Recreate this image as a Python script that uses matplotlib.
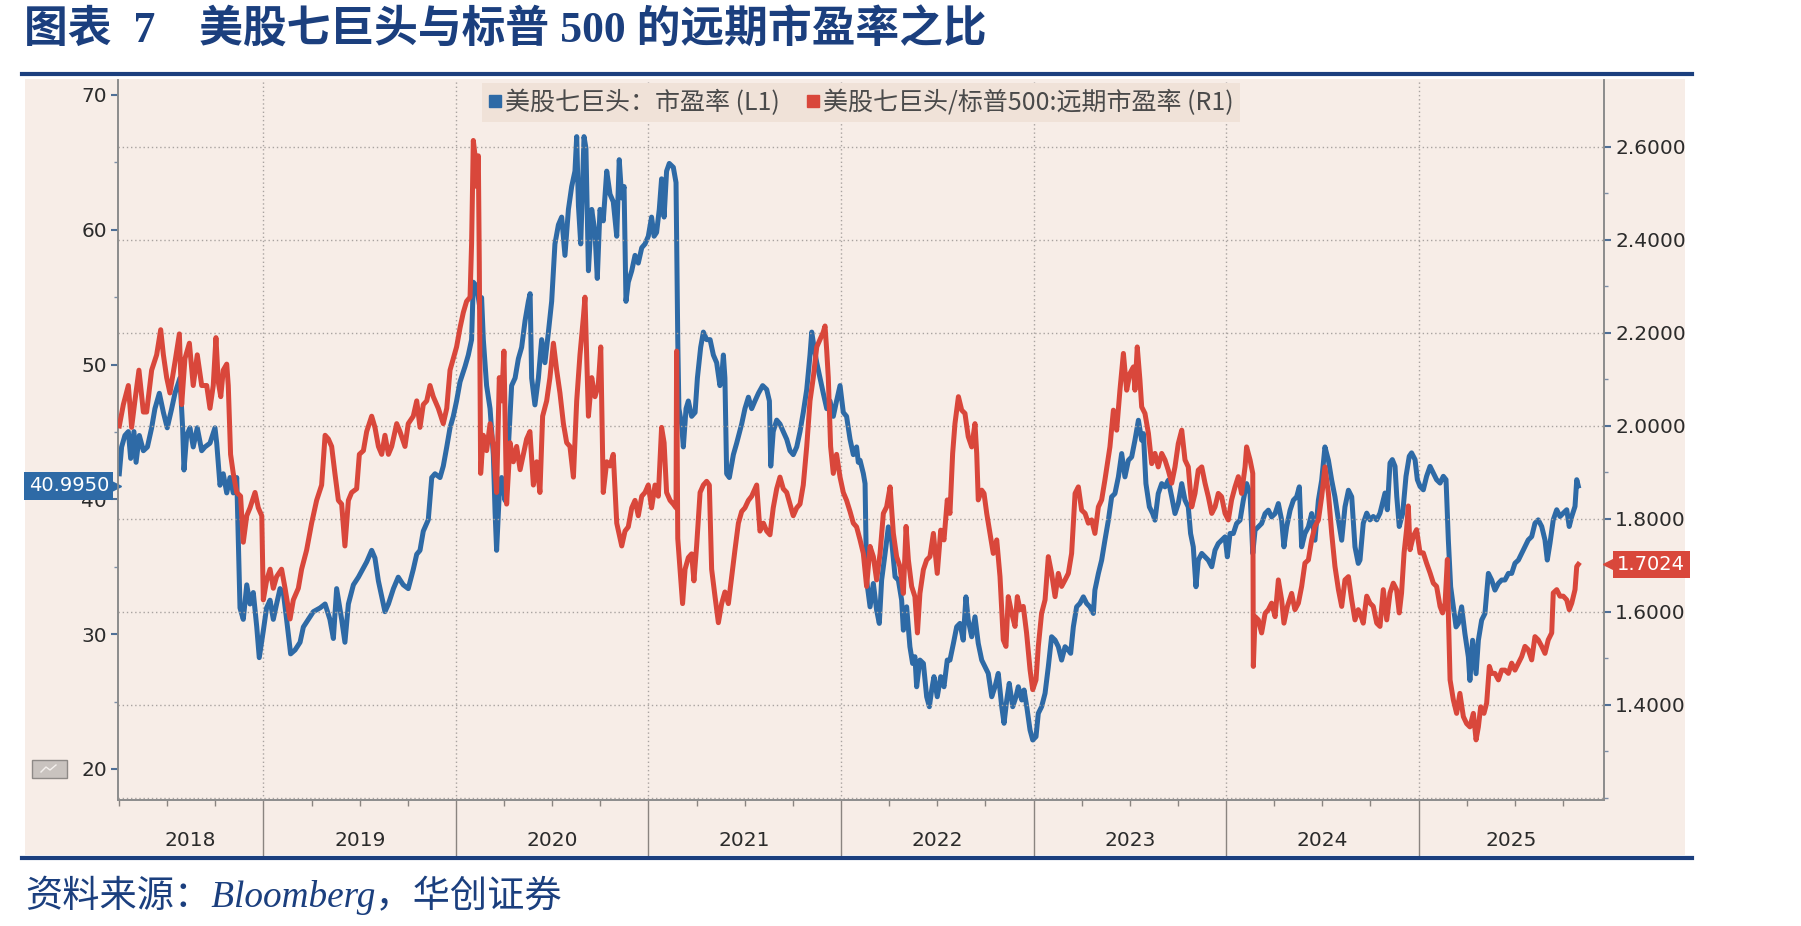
import matplotlib
matplotlib.use("Agg")
import matplotlib.pyplot as plt
from matplotlib.transforms import blended_transform_factory
from matplotlib.patches import Rectangle
from matplotlib.lines import Line2D
from matplotlib.ticker import FixedLocator, FormatStrFormatter, NullFormatter

# ---------------- data (decimal year, value) ----------------
pe_t = [2018.251, 2018.263, 2018.280, 2018.298, 2018.310, 2018.327, 2018.338, 2018.355, 2018.376, 2018.397,
        2018.419, 2018.436, 2018.459, 2018.480, 2018.500, 2018.523, 2018.540, 2018.566, 2018.580, 2018.587,
        2018.601, 2018.618, 2018.635, 2018.656, 2018.679, 2018.696, 2018.722, 2018.748, 2018.757, 2018.774,
        2018.791, 2018.809, 2018.826, 2018.843, 2018.861, 2018.878, 2018.895, 2018.913, 2018.930, 2018.947,
        2018.965, 2018.978, 2018.999, 2019.016, 2019.034, 2019.051, 2019.068, 2019.086, 2019.103, 2019.120,
        2019.141, 2019.164, 2019.190, 2019.207, 2019.233, 2019.259, 2019.294, 2019.320, 2019.345, 2019.363,
        2019.380, 2019.406, 2019.423, 2019.441, 2019.467, 2019.493, 2019.536, 2019.562, 2019.579, 2019.597,
        2019.614, 2019.631, 2019.649, 2019.675, 2019.700, 2019.726, 2019.752, 2019.778, 2019.796, 2019.813,
        2019.830, 2019.856, 2019.874, 2019.891, 2019.917, 2019.934, 2019.952, 2019.969, 2019.986, 2020.003,
        2020.021, 2020.047, 2020.064, 2020.081, 2020.090, 2020.107, 2020.125, 2020.133, 2020.142, 2020.159,
        2020.177, 2020.194, 2020.203, 2020.211, 2020.225, 2020.237, 2020.255, 2020.272, 2020.289, 2020.307,
        2020.324, 2020.341, 2020.359, 2020.376, 2020.385, 2020.393, 2020.410, 2020.428, 2020.445, 2020.462,
        2020.480, 2020.497, 2020.514, 2020.532, 2020.549, 2020.566, 2020.584, 2020.601, 2020.618, 2020.627,
        2020.636, 2020.648, 2020.665, 2020.675, 2020.688, 2020.705, 2020.722, 2020.734, 2020.748, 2020.765,
        2020.783, 2020.800, 2020.817, 2020.835, 2020.848, 2020.861, 2020.873, 2020.883, 2020.895, 2020.913,
        2020.930, 2020.947, 2020.965, 2020.982, 2020.999, 2021.016, 2021.029, 2021.042, 2021.056, 2021.068,
        2021.081, 2021.094, 2021.108, 2021.129, 2021.143, 2021.152, 2021.158, 2021.172, 2021.181, 2021.195,
        2021.207, 2021.224, 2021.242, 2021.254, 2021.271, 2021.285, 2021.302, 2021.320, 2021.337, 2021.354,
        2021.371, 2021.380, 2021.389, 2021.397, 2021.406, 2021.420, 2021.441, 2021.458, 2021.484, 2021.501,
        2021.519, 2021.536, 2021.553, 2021.571, 2021.593, 2021.614, 2021.628, 2021.635, 2021.648, 2021.666,
        2021.683, 2021.700, 2021.718, 2021.735, 2021.752, 2021.770, 2021.787, 2021.804, 2021.822, 2021.839,
        2021.848, 2021.860, 2021.874, 2021.891, 2021.908, 2021.926, 2021.943, 2021.960, 2021.977, 2021.995,
        2022.012, 2022.029, 2022.047, 2022.064, 2022.081, 2022.090, 2022.099, 2022.116, 2022.125, 2022.133,
        2022.151, 2022.168, 2022.185, 2022.199, 2022.211, 2022.229, 2022.246, 2022.263, 2022.281, 2022.298,
        2022.315, 2022.324, 2022.341, 2022.358, 2022.372, 2022.384, 2022.393, 2022.410, 2022.428, 2022.445,
        2022.459, 2022.471, 2022.483, 2022.500, 2022.518, 2022.535, 2022.552, 2022.566, 2022.584, 2022.601,
        2022.618, 2022.635, 2022.649, 2022.661, 2022.679, 2022.696, 2022.713, 2022.731, 2022.748, 2022.765,
        2022.783, 2022.800, 2022.817, 2022.835, 2022.847, 2022.861, 2022.874, 2022.892, 2022.909, 2022.921,
        2022.939, 2022.951, 2022.965, 2022.982, 2022.996, 2023.013, 2023.025, 2023.042, 2023.060, 2023.077,
        2023.094, 2023.112, 2023.129, 2023.146, 2023.164, 2023.181, 2023.193, 2023.207, 2023.224, 2023.241,
        2023.259, 2023.276, 2023.293, 2023.311, 2023.319, 2023.337, 2023.354, 2023.371, 2023.389, 2023.406,
        2023.423, 2023.441, 2023.458, 2023.475, 2023.493, 2023.510, 2023.527, 2023.545, 2023.562, 2023.571,
        2023.584, 2023.602, 2023.619, 2023.631, 2023.648, 2023.666, 2023.683, 2023.700, 2023.718, 2023.735,
        2023.752, 2023.770, 2023.787, 2023.804, 2023.816, 2023.830, 2023.844, 2023.856, 2023.874, 2023.891,
        2023.908, 2023.926, 2023.943, 2023.960, 2023.977, 2023.995, 2024.007, 2024.021, 2024.038, 2024.055,
        2024.073, 2024.090, 2024.107, 2024.125, 2024.139, 2024.151, 2024.168, 2024.185, 2024.203, 2024.220,
        2024.237, 2024.255, 2024.272, 2024.289, 2024.301, 2024.315, 2024.333, 2024.350, 2024.367, 2024.381,
        2024.393, 2024.410, 2024.428, 2024.445, 2024.462, 2024.480, 2024.497, 2024.514, 2024.532, 2024.549,
        2024.566, 2024.584, 2024.601, 2024.618, 2024.636, 2024.653, 2024.670, 2024.687, 2024.696, 2024.713,
        2024.731, 2024.748, 2024.765, 2024.783, 2024.800, 2024.817, 2024.826, 2024.838, 2024.852, 2024.864,
        2024.878, 2024.887, 2024.900, 2024.918, 2024.935, 2024.952, 2024.964, 2024.982, 2024.994, 2025.008,
        2025.025, 2025.042, 2025.060, 2025.077, 2025.094, 2025.112, 2025.129, 2025.143, 2025.155, 2025.167,
        2025.181, 2025.195, 2025.207, 2025.224, 2025.241, 2025.259, 2025.267, 2025.281, 2025.299, 2025.311,
        2025.328, 2025.345, 2025.363, 2025.380, 2025.397, 2025.415, 2025.432, 2025.449, 2025.467, 2025.484,
        2025.501, 2025.519, 2025.536, 2025.553, 2025.570, 2025.588, 2025.605, 2025.622, 2025.640, 2025.657,
        2025.669, 2025.683, 2025.700, 2025.718, 2025.735, 2025.752, 2025.770, 2025.783, 2025.796, 2025.813,
        2025.822, 2025.830]
pe_val = [41.90, 43.89, 44.74, 45.03, 43.04, 45.03, 42.75, 44.74, 43.61, 43.89,
          45.31, 46.73, 47.87, 46.45, 45.31, 46.73, 47.87, 49.00, 45.31, 42.18,
          44.74, 45.31, 43.89, 45.31, 43.61, 43.89, 44.17, 45.31, 44.17, 41.05,
          41.90, 40.48, 41.62, 40.48, 41.62, 31.95, 31.10, 33.66, 32.24, 33.09,
          30.53, 28.26, 30.25, 31.95, 32.52, 31.10, 32.24, 33.38, 33.09, 31.10,
          28.54, 28.83, 29.40, 30.53, 31.10, 31.67, 31.95, 32.24, 31.10, 29.68,
          33.38, 31.10, 29.40, 32.24, 33.66, 34.23, 35.36, 36.22, 35.65, 33.94,
          32.81, 31.67, 32.24, 33.38, 34.23, 33.66, 33.38, 34.80, 35.93, 36.22,
          37.64, 38.49, 41.62, 41.90, 41.62, 42.47, 43.89, 45.31, 46.16, 47.30,
          48.72, 49.86, 50.71, 51.85, 56.11, 55.82, 54.12, 54.97, 51.85, 48.44,
          46.73, 43.32, 39.06, 36.22, 40.48, 41.62, 39.91, 43.89, 48.44, 49.00,
          50.43, 51.28, 53.27, 54.69, 55.26, 49.00, 47.01, 49.00, 51.85, 50.14,
          52.41, 54.69, 58.95, 60.37, 60.94, 58.10, 61.51, 63.21, 64.35, 66.91,
          61.79, 58.95, 66.91, 66.05, 56.96, 61.51, 59.80, 56.39, 61.51, 60.66,
          64.35, 62.64, 62.08, 59.52, 65.20, 62.36, 63.21, 54.69, 56.11, 56.96,
          58.10, 57.53, 58.67, 58.95, 59.52, 60.94, 59.52, 59.80, 61.51, 63.78,
          60.94, 64.35, 64.92, 64.63, 63.50, 51.85, 46.73, 45.59, 43.89, 46.73,
          47.30, 46.16, 46.45, 49.00, 51.28, 52.41, 51.85, 51.85, 50.71, 50.14,
          48.44, 49.00, 50.71, 49.00, 41.90, 41.62, 43.32, 44.17, 45.59, 46.73,
          47.58, 46.73, 47.30, 47.87, 48.44, 48.15, 47.30, 42.47, 45.03, 45.88,
          45.59, 45.03, 44.46, 43.61, 43.32, 43.89, 45.03, 46.45, 48.15, 50.71,
          52.41, 51.28, 50.14, 49.00, 47.87, 46.73, 47.30, 46.16, 47.30, 48.44,
          46.45, 46.16, 44.46, 43.32, 43.89, 42.75, 42.90, 41.92, 41.17, 34.01,
          32.03, 33.76, 31.79, 30.80, 34.01, 35.99, 37.96, 36.97, 34.26, 34.01,
          32.53, 30.30, 32.03, 29.07, 27.83, 28.33, 26.10, 28.08, 27.83, 25.36,
          24.62, 25.86, 26.85, 25.36, 26.85, 26.10, 28.08, 28.08, 29.32, 30.55,
          30.80, 29.56, 32.77, 31.05, 29.81, 31.29, 29.32, 28.08, 27.59, 27.09,
          25.36, 26.10, 27.09, 24.62, 23.39, 25.12, 26.35, 24.62, 25.36, 26.10,
          25.12, 25.86, 24.62, 22.89, 22.15, 22.40, 24.13, 24.62, 25.61, 27.59,
          29.81, 29.56, 29.07, 28.08, 29.07, 28.82, 28.58, 30.55, 32.03, 32.28,
          32.77, 32.28, 32.03, 31.54, 33.27, 34.50, 35.49, 36.97, 38.46, 40.19,
          40.43, 41.67, 43.40, 41.67, 42.90, 43.15, 44.39, 45.87, 44.39, 44.88,
          41.17, 39.44, 38.95, 38.46, 40.43, 41.17, 40.93, 41.42, 40.19, 38.95,
          39.69, 41.17, 39.94, 39.44, 37.47, 36.48, 33.52, 35.49, 35.99, 35.74,
          35.49, 35.00, 36.23, 36.73, 36.97, 37.22, 35.74, 37.47, 37.47, 38.21,
          38.46, 39.94, 41.17, 40.43, 35.99, 37.72, 37.96, 38.21, 38.95, 39.20,
          38.70, 38.95, 39.69, 38.46, 36.48, 37.96, 39.20, 39.94, 40.19, 40.93,
          36.48, 37.47, 37.96, 38.95, 36.97, 39.94, 41.42, 43.89, 42.90, 41.42,
          40.19, 38.46, 36.97, 39.44, 40.68, 40.19, 36.48, 35.25, 35.50, 38.23,
          38.98, 38.48, 38.73, 38.48, 38.98, 39.97, 40.47, 39.23, 42.70, 42.95,
          42.45, 40.22, 37.99, 38.98, 41.71, 43.20, 43.45, 42.95, 41.46, 40.96,
          40.71, 41.71, 42.45, 41.96, 41.46, 41.21, 41.71, 41.46, 36.99, 33.52,
          32.03, 30.54, 30.79, 32.03, 30.05, 28.31, 26.57, 29.55, 27.07, 29.55,
          31.04, 31.53, 34.51, 34.02, 33.27, 33.77, 34.02, 34.02, 34.51, 34.51,
          35.26, 35.50, 36.00, 36.50, 36.99, 37.24, 38.23, 38.48, 37.99, 36.99,
          35.50, 36.75, 38.48, 39.23, 38.73, 38.98, 39.23, 37.99, 38.73, 39.48,
          41.46, 40.995]

ratio_t = [2018.251, 2018.272, 2018.298, 2018.315, 2018.332, 2018.353, 2018.376, 2018.393, 2018.419, 2018.445,
           2018.466, 2018.480, 2018.497, 2018.514, 2018.540, 2018.563, 2018.575, 2018.592, 2018.615, 2018.635,
           2018.656, 2018.679, 2018.705, 2018.722, 2018.739, 2018.753, 2018.765, 2018.778, 2018.791, 2018.809,
           2018.817, 2018.829, 2018.843, 2018.861, 2018.881, 2018.895, 2018.913, 2018.930, 2018.956, 2018.973,
           2018.991, 2018.999, 2019.016, 2019.034, 2019.051, 2019.068, 2019.094, 2019.112, 2019.138, 2019.155,
           2019.181, 2019.198, 2019.224, 2019.250, 2019.276, 2019.302, 2019.320, 2019.337, 2019.354, 2019.371,
           2019.389, 2019.406, 2019.423, 2019.441, 2019.458, 2019.484, 2019.498, 2019.519, 2019.536, 2019.562,
           2019.579, 2019.597, 2019.614, 2019.631, 2019.649, 2019.666, 2019.692, 2019.709, 2019.735, 2019.752,
           2019.778, 2019.796, 2019.813, 2019.830, 2019.848, 2019.865, 2019.882, 2019.908, 2019.934, 2019.952,
           2019.969, 2019.986, 2020.003, 2020.021, 2020.038, 2020.055, 2020.073, 2020.081, 2020.090, 2020.099,
           2020.107, 2020.116, 2020.121, 2020.128, 2020.142, 2020.159, 2020.177, 2020.194, 2020.211, 2020.225,
           2020.237, 2020.249, 2020.263, 2020.281, 2020.298, 2020.315, 2020.333, 2020.350, 2020.367, 2020.384,
           2020.402, 2020.419, 2020.436, 2020.450, 2020.471, 2020.488, 2020.506, 2020.523, 2020.540, 2020.558,
           2020.575, 2020.592, 2020.610, 2020.627, 2020.644, 2020.662, 2020.670, 2020.688, 2020.705, 2020.722,
           2020.739, 2020.752, 2020.765, 2020.783, 2020.800, 2020.817, 2020.835, 2020.861, 2020.878, 2020.895,
           2020.913, 2020.930, 2020.947, 2020.965, 2020.982, 2020.999, 2021.016, 2021.034, 2021.051, 2021.068,
           2021.081, 2021.094, 2021.112, 2021.129, 2021.143, 2021.146, 2021.152, 2021.164, 2021.177, 2021.190,
           2021.207, 2021.224, 2021.236, 2021.250, 2021.268, 2021.285, 2021.302, 2021.316, 2021.328, 2021.345,
           2021.363, 2021.380, 2021.397, 2021.415, 2021.432, 2021.449, 2021.467, 2021.484, 2021.501, 2021.519,
           2021.536, 2021.553, 2021.562, 2021.579, 2021.597, 2021.614, 2021.631, 2021.648, 2021.666, 2021.683,
           2021.700, 2021.718, 2021.735, 2021.752, 2021.770, 2021.787, 2021.804, 2021.822, 2021.839, 2021.856,
           2021.874, 2021.891, 2021.908, 2021.917, 2021.926, 2021.934, 2021.946, 2021.960, 2021.977, 2021.995,
           2022.012, 2022.029, 2022.047, 2022.064, 2022.081, 2022.099, 2022.116, 2022.133, 2022.151, 2022.168,
           2022.185, 2022.203, 2022.220, 2022.237, 2022.255, 2022.272, 2022.289, 2022.306, 2022.324, 2022.338,
           2022.350, 2022.367, 2022.384, 2022.397, 2022.410, 2022.428, 2022.445, 2022.462, 2022.480, 2022.500,
           2022.518, 2022.535, 2022.552, 2022.566, 2022.580, 2022.592, 2022.610, 2022.627, 2022.644, 2022.661,
           2022.679, 2022.696, 2022.705, 2022.713, 2022.731, 2022.743, 2022.757, 2022.774, 2022.791, 2022.809,
           2022.826, 2022.843, 2022.857, 2022.869, 2022.887, 2022.904, 2022.916, 2022.930, 2022.947, 2022.964,
           2022.982, 2022.996, 2023.013, 2023.025, 2023.042, 2023.060, 2023.077, 2023.094, 2023.112, 2023.129,
           2023.146, 2023.164, 2023.181, 2023.198, 2023.216, 2023.233, 2023.250, 2023.268, 2023.285, 2023.302,
           2023.319, 2023.337, 2023.354, 2023.371, 2023.389, 2023.397, 2023.415, 2023.432, 2023.449, 2023.467,
           2023.484, 2023.501, 2023.519, 2023.527, 2023.539, 2023.553, 2023.562, 2023.579, 2023.597, 2023.614,
           2023.631, 2023.648, 2023.666, 2023.683, 2023.700, 2023.718, 2023.735, 2023.752, 2023.770, 2023.787,
           2023.804, 2023.822, 2023.839, 2023.856, 2023.874, 2023.891, 2023.908, 2023.926, 2023.943, 2023.960,
           2023.977, 2023.995, 2024.012, 2024.029, 2024.047, 2024.064, 2024.081, 2024.099, 2024.107, 2024.125,
           2024.139, 2024.142, 2024.151, 2024.168, 2024.185, 2024.203, 2024.220, 2024.237, 2024.255, 2024.272,
           2024.289, 2024.301, 2024.319, 2024.341, 2024.358, 2024.376, 2024.393, 2024.410, 2024.428, 2024.445,
           2024.462, 2024.480, 2024.497, 2024.514, 2024.532, 2024.549, 2024.566, 2024.584, 2024.601, 2024.618,
           2024.636, 2024.653, 2024.670, 2024.687, 2024.696, 2024.713, 2024.731, 2024.748, 2024.765, 2024.783,
           2024.800, 2024.817, 2024.835, 2024.852, 2024.869, 2024.886, 2024.900, 2024.912, 2024.925, 2024.938,
           2024.947, 2024.956, 2024.973, 2024.990, 2025.008, 2025.025, 2025.042, 2025.060, 2025.077, 2025.094,
           2025.112, 2025.125, 2025.138, 2025.150, 2025.155, 2025.164, 2025.181, 2025.198, 2025.215, 2025.233,
           2025.250, 2025.267, 2025.285, 2025.299, 2025.311, 2025.323, 2025.340, 2025.354, 2025.368, 2025.380,
           2025.397, 2025.415, 2025.432, 2025.449, 2025.467, 2025.484, 2025.501, 2025.519, 2025.536, 2025.553,
           2025.570, 2025.588, 2025.605, 2025.622, 2025.640, 2025.657, 2025.674, 2025.692, 2025.700, 2025.718,
           2025.735, 2025.752, 2025.770, 2025.783, 2025.796, 2025.813, 2025.822, 2025.830]
ratio_val = [2.000, 2.046, 2.087, 1.997, 2.054, 2.120, 2.030, 2.030, 2.120, 2.153,
             2.207, 2.153, 2.104, 2.071, 2.137, 2.198, 2.046, 2.145, 2.178, 2.087,
             2.153, 2.087, 2.087, 2.038, 2.087, 2.190, 2.095, 2.063, 2.120, 2.133,
             2.087, 1.939, 1.898, 1.857, 1.849, 1.750, 1.807, 1.824, 1.857, 1.824,
             1.807, 1.626, 1.667, 1.692, 1.651, 1.676, 1.692, 1.651, 1.585, 1.626,
             1.651, 1.692, 1.733, 1.791, 1.840, 1.873, 1.980, 1.972, 1.956, 1.898,
             1.840, 1.832, 1.742, 1.840, 1.857, 1.865, 1.939, 1.947, 1.988, 2.021,
             1.997, 1.956, 1.939, 1.980, 1.939, 1.956, 2.005, 1.988, 1.956, 2.005,
             2.021, 2.054, 1.997, 2.046, 2.054, 2.087, 2.063, 2.038, 2.005, 2.038,
             2.120, 2.145, 2.170, 2.211, 2.244, 2.268, 2.277, 2.392, 2.614, 2.581,
             2.515, 2.581, 2.351, 1.898, 1.980, 1.947, 2.005, 1.956, 1.857, 2.104,
             2.054, 2.161, 1.832, 1.964, 1.923, 1.956, 1.906, 1.939, 1.972, 1.988,
             1.873, 1.923, 1.857, 2.021, 2.054, 2.104, 2.178, 2.120, 2.071, 2.005,
             1.964, 1.956, 1.890, 2.054, 2.153, 2.235, 2.277, 2.021, 2.104, 2.063,
             2.087, 2.170, 1.857, 1.923, 1.914, 1.939, 1.791, 1.742, 1.774, 1.783,
             1.824, 1.840, 1.807, 1.849, 1.857, 1.873, 1.824, 1.873, 1.849, 1.997,
             1.964, 1.857, 1.840, 1.832, 1.824, 2.161, 1.758, 1.692, 1.618, 1.692,
             1.717, 1.725, 1.667, 1.742, 1.857, 1.873, 1.881, 1.873, 1.692, 1.635,
             1.577, 1.618, 1.643, 1.618, 1.676, 1.733, 1.791, 1.816, 1.824, 1.840,
             1.849, 1.865, 1.873, 1.774, 1.791, 1.774, 1.766, 1.824, 1.865, 1.890,
             1.865, 1.857, 1.832, 1.807, 1.824, 1.832, 1.873, 1.956, 2.054, 2.104,
             2.170, 2.186, 2.202, 2.215, 2.161, 2.104, 1.956, 1.898, 1.939, 1.890,
             1.857, 1.840, 1.816, 1.791, 1.783, 1.755, 1.726, 1.655, 1.741, 1.719,
             1.669, 1.726, 1.812, 1.826, 1.869, 1.769, 1.719, 1.698, 1.640, 1.784,
             1.712, 1.655, 1.633, 1.555, 1.640, 1.691, 1.712, 1.719, 1.769, 1.683,
             1.776, 1.755, 1.841, 1.812, 1.941, 2.005, 2.063, 2.034, 2.027, 1.977,
             1.955, 2.005, 1.941, 1.841, 1.862, 1.855, 1.812, 1.769, 1.726, 1.755,
             1.676, 1.540, 1.526, 1.633, 1.597, 1.569, 1.633, 1.605, 1.612, 1.555,
             1.476, 1.433, 1.454, 1.526, 1.597, 1.626, 1.719, 1.683, 1.633, 1.683,
             1.655, 1.669, 1.683, 1.726, 1.855, 1.869, 1.819, 1.812, 1.791, 1.798,
             1.769, 1.826, 1.841, 1.884, 1.934, 1.955, 2.034, 1.991, 2.077, 2.156,
             2.077, 2.113, 2.127, 2.077, 2.170, 2.098, 2.041, 2.027, 1.984, 1.919,
             1.941, 1.912, 1.941, 1.927, 1.905, 1.877, 1.912, 1.962, 1.991, 1.927,
             1.912, 1.826, 1.855, 1.905, 1.912, 1.877, 1.848, 1.812, 1.826, 1.855,
             1.848, 1.812, 1.798, 1.841, 1.869, 1.891, 1.855, 1.912, 1.955, 1.927,
             1.898, 1.483, 1.590, 1.583, 1.555, 1.597, 1.605, 1.619, 1.590, 1.669,
             1.626, 1.576, 1.612, 1.640, 1.605, 1.619, 1.655, 1.705, 1.712, 1.755,
             1.784, 1.798, 1.848, 1.912, 1.855, 1.769, 1.698, 1.648, 1.612, 1.669,
             1.676, 1.626, 1.583, 1.605, 1.598, 1.576, 1.634, 1.619, 1.612, 1.576,
             1.569, 1.648, 1.583, 1.641, 1.662, 1.648, 1.598, 1.641, 1.727, 1.777,
             1.828, 1.734, 1.763, 1.777, 1.727, 1.727, 1.705, 1.684, 1.662, 1.655,
             1.612, 1.598, 1.619, 1.713, 1.598, 1.454, 1.411, 1.382, 1.425, 1.375,
             1.360, 1.353, 1.382, 1.325, 1.353, 1.396, 1.382, 1.404, 1.483, 1.468,
             1.468, 1.454, 1.475, 1.475, 1.468, 1.490, 1.475, 1.490, 1.504, 1.526,
             1.519, 1.497, 1.547, 1.540, 1.526, 1.511, 1.540, 1.555, 1.641, 1.648,
             1.634, 1.634, 1.626, 1.605, 1.619, 1.648, 1.698, 1.7024]

left_ticks = [20, 30, 40, 50, 60, 70]
right_ticks = [1.4, 1.6, 1.8, 2.0, 2.2, 2.4, 2.6]
years = [2018, 2019, 2020, 2021, 2022, 2023, 2024, 2025]
legend_labels = ["美股七巨头：市盈率 (L1)", "美股七巨头/标普500:远期市盈率 (R1)"]
title_text = "图表  7　美股七巨头与标普 500 的远期市盈率之比"
source_text = "资料来源：Bloomberg，华创证券"

# ---------------- styling ----------------
BLUE = "#2e6aa6"
RED = "#d9473b"
NAVY = "#1b3f7e"
BEIGE = "#f7ede7"
GRID = "#a9a3a0"
CJK = ["Noto Sans CJK SC", "DejaVu Sans"]
SERIF_CJK = ["Liberation Serif", "Noto Sans CJK SC"]

W, H = 1801, 926
fig = plt.figure(figsize=(W / 100, H / 100), dpi=100)
fig.patch.set_facecolor("white")


def fx(p):
    return p / W


def fy(p):
    return 1 - p / H


# beige image panel
fig.add_artist(Rectangle((fx(25), fy(855)), fx(1685) - fx(25), fy(79) - fy(855),
                         transform=fig.transFigure, facecolor=BEIGE, edgecolor="none", zorder=0))
# rules
fig.add_artist(Line2D([fx(22), fx(1692)], [fy(73.5), fy(73.5)], color=NAVY, lw=3.0))
fig.add_artist(Line2D([fx(22), fx(1692)], [fy(857.5), fy(857.5)], color=NAVY, lw=3.0))

# title & source
fig.text(fx(24), fy(31), title_text, fontsize=31.5, fontweight="bold", color=NAVY,
         family=SERIF_CJK, va="center", ha="left")
fig.text(fx(25), fy(895), source_text, fontsize=26.8, style="italic", color=NAVY,
         family=SERIF_CJK, va="center", ha="left")

# axes
ax = fig.add_axes([fx(118), fy(800), (1604 - 118) / W, (800 - 80) / H])
ax.set_facecolor("none")
ax2 = ax.twinx()
ax2.set_facecolor("none")

xmin, xmax = 2018.2442, 2025.9636
ax.set_xlim(xmin, xmax)
ax.set_ylim(17.70, 71.11)
ax2.set_ylim(1.1957, 2.744)

ax.plot(pe_t, pe_val, color=BLUE, lw=3.6, solid_joinstyle="round", zorder=3)
ax2.plot(ratio_t, ratio_val, color=RED, lw=3.6, solid_joinstyle="round", zorder=3)

# left axis ticks
ax.yaxis.set_major_locator(FixedLocator(left_ticks))
ax.yaxis.set_minor_locator(FixedLocator([25, 35, 45, 55, 65]))
ax.yaxis.set_major_formatter(FormatStrFormatter("%d"))
ax.tick_params(axis="y", which="major", direction="out", length=5, width=1.5,
               color="#4f6f96", labelsize=14.5, labelcolor="#2b2b2b", pad=3)
ax.tick_params(axis="y", which="minor", direction="out", length=3, width=1, color="#7d8ea6")

# right axis ticks
ax2.yaxis.set_major_locator(FixedLocator(right_ticks))
ax2.yaxis.set_minor_locator(FixedLocator([1.2, 1.3, 1.5, 1.7, 1.9, 2.1, 2.3, 2.5]))
ax2.yaxis.set_major_formatter(FormatStrFormatter("%.4f"))
ax2.tick_params(axis="y", which="major", direction="out", length=5, width=1.5,
                color="#4f6f96", labelsize=14.5, labelcolor="#2b2b2b", pad=3)
ax2.tick_params(axis="y", which="minor", direction="out", length=3, width=1, color="#7d8ea6")

# x axis: year boundaries (long ticks) and quarter ticks
ax.xaxis.set_major_locator(FixedLocator([y for y in years if xmin < y < xmax]))
ax.xaxis.set_major_formatter(NullFormatter())
quarters = [y + q for y in years for q in (0.25, 0.5, 0.75) if xmin < y + q < xmax]
ax.xaxis.set_minor_locator(FixedLocator(quarters))
ax.tick_params(axis="x", which="major", direction="out", length=40, width=1, color="#8a8480")
ax.tick_params(axis="x", which="minor", direction="out", length=4, width=1, color="#8a8480")
ax2.tick_params(axis="x", which="both", length=0)

# gridlines
ax.xaxis.grid(True, which="major", linestyle=(0, (1, 2)), color=GRID, lw=1)
ax2.yaxis.grid(True, which="major", linestyle=(0, (1, 2)), color=GRID, lw=1)
ax2.axhline(1.2, color=GRID, lw=1, linestyle=(0, (1, 2)))

for a in (ax, ax2):
    a.spines["top"].set_visible(False)
    for s in ("left", "right", "bottom"):
        a.spines[s].set_color("#8c8c8c")
        a.spines[s].set_linewidth(1.2)

# year labels, centred in visible portion of each year
trans_x = blended_transform_factory(ax.transData, ax.transAxes)
for y in years:
    lo, hi = max(y, xmin), min(y + 1, xmax)
    ax.text((lo + hi) / 2, -0.0556, str(y), transform=trans_x, ha="center", va="center",
            fontsize=14.5, color="#2b2b2b")

# last value tags
tl = blended_transform_factory(ax.transAxes, ax.transData)
ax.text(-0.006, pe_val[-1], f"{pe_val[-1]:.4f}", transform=tl, ha="right", va="center",
        fontsize=14, color="white", zorder=10, clip_on=False,
        bbox=dict(boxstyle="square,pad=0.22", fc=BLUE, ec="none"))
ax.plot([-0.0022], [pe_val[-1]], marker=">", ms=8, color=BLUE, transform=tl,
        clip_on=False, zorder=10)
tr = blended_transform_factory(ax2.transAxes, ax2.transData)
ax2.text(1.009, ratio_val[-1], f"{ratio_val[-1]:.4f}", transform=tr, ha="left", va="center",
         fontsize=14, color="white", zorder=10, clip_on=False,
         bbox=dict(boxstyle="square,pad=0.22", fc=RED, ec="none"))
ax2.plot([1.0035], [ratio_val[-1]], marker="<", ms=9, color=RED, transform=tr,
         clip_on=False, zorder=10)

# small chart icon bottom-left
fig.add_artist(Rectangle((fx(32), fy(778)), fx(67) - fx(32), fy(760) - fy(778),
                         transform=fig.transFigure, facecolor="#c9c3bf", edgecolor="#8e8a87", lw=1))
fig.add_artist(Line2D([fx(41), fx(46), fx(50), fx(56)], [fy(772), fy(767), fy(770), fy(765)],
                      color="#f4f0ed", lw=1))

# legend
handles = [Line2D([], [], marker="s", linestyle="none", color=BLUE, ms=9),
           Line2D([], [], marker="s", linestyle="none", color=RED, ms=9)]
leg = ax2.legend(handles, legend_labels, loc="upper center", ncol=2,
                 bbox_to_anchor=(fx(861), fy(83)), bbox_transform=fig.transFigure,
                 borderaxespad=0, frameon=True, fancybox=False, facecolor="#f0e2d8",
                 edgecolor="none", framealpha=1, handlelength=0.5, handletextpad=0.15,
                 columnspacing=1.1, borderpad=0.25, prop={"family": CJK, "size": 18})
for t in leg.get_texts():
    t.set_color("#4a4a4a")

fig.savefig("out.png", dpi=100, facecolor="white")
